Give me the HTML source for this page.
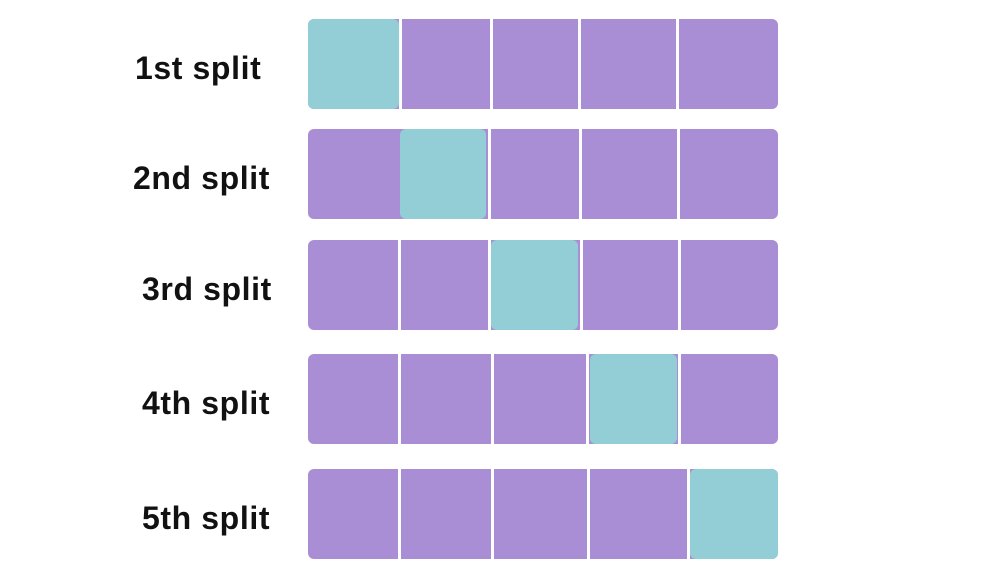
<!DOCTYPE html>
<html><head><meta charset="utf-8"><style>
body{margin:0;width:981px;height:569px;background:#fff;position:relative;overflow:hidden;font-family:"Liberation Sans",sans-serif}
.lbl{position:absolute;font-weight:bold;font-size:32px;letter-spacing:0.6px;color:#111;line-height:1}
.bar{position:absolute;left:308px;width:470px;height:90px;background:#a98ed5;border-radius:6px}
.gap{position:absolute;top:0;width:3px;height:90px;background:#fff}
.teal{position:absolute;top:0;height:90px;background:#93ced6;border-radius:6px}
</style></head><body>
<div id="root"></div>
<script>
const labels=["1st split","2nd split","3rd split","4th split","5th split"];
const rowTops=[19,129,240,354,469];
const labelLefts=[135,133,142,142,142];
const gaps=[[399,490,578,676],[488,579,677],[398,488,580,678],[398,491,586,678],[398,491,587,687]];
const teals=[[308,399],[400,486],[491,578],[590,677],[690,778]];
const root=document.getElementById('root');
labels.forEach((t,i)=>{
  const l=document.createElement('div');l.className='lbl';
  
  
  l.style.left=labelLefts[i]+'px';l.style.top=(rowTops[i]+33)+'px';l.textContent=t;root.appendChild(l);
  const b=document.createElement('div');b.className='bar';
  
  
  b.style.top=rowTops[i]+'px';root.appendChild(b);
  gaps[i].forEach(g=>{const d=document.createElement('div');d.className='gap';
    
    
    d.style.left=(g-308)+'px';b.appendChild(d);});
  const tl=document.createElement('div');tl.className='teal';
  
  
  tl.style.left=(teals[i][0]-308)+'px';tl.style.width=(teals[i][1]-teals[i][0])+'px';b.appendChild(tl);
});
</script>
</body></html>
